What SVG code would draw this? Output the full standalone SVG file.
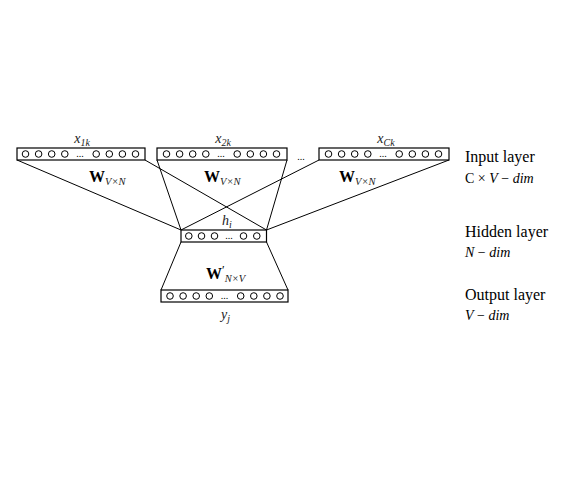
<svg xmlns="http://www.w3.org/2000/svg" width="580" height="478" viewBox="0 0 580 478">
<style>
.box{fill:#fff;stroke:#000;stroke-width:1.2}
.c{fill:#fff;stroke:#000;stroke-width:1}
.ln{stroke:#000;stroke-width:1;fill:none}
.t{font-family:"Liberation Serif",serif;fill:#000}
.it{font-style:italic}
.dots{font-family:"Liberation Serif",serif;font-size:10px;fill:#000}
.w{font-family:"Liberation Serif",serif;font-weight:bold;font-size:16px;fill:#000}
.sub{font-family:"Liberation Serif",serif;font-style:italic;font-weight:normal;font-size:10.5px;fill:#222}
.lbl{font-family:"Liberation Serif",serif;font-style:italic;font-size:14px;fill:#222}
.lbs{font-size:10px}
</style>
<defs>
<g id="row8">
<circle class="c" cx="8.5" cy="6" r="3.3"/>
<circle class="c" cx="21.6" cy="6" r="3.3"/>
<circle class="c" cx="34.7" cy="6" r="3.3"/>
<circle class="c" cx="47.8" cy="6" r="3.3"/>
<text class="dots" x="63" y="9" text-anchor="middle">...</text>
<circle class="c" cx="79.2" cy="6" r="3.3"/>
<circle class="c" cx="92.3" cy="6" r="3.3"/>
<circle class="c" cx="105.4" cy="6" r="3.3"/>
<circle class="c" cx="118.5" cy="6" r="3.3"/>
</g>
</defs>
<rect width="580" height="478" fill="#fff"/>
<g id="connectors">
<line class="ln" x1="17" y1="160" x2="181" y2="230"/>
<line class="ln" x1="145" y1="160" x2="266.5" y2="230"/>
<line class="ln" x1="157" y1="160" x2="181" y2="230"/>
<line class="ln" x1="287" y1="160" x2="266.5" y2="230"/>
<line class="ln" x1="319" y1="160" x2="181" y2="230"/>
<line class="ln" x1="449" y1="160" x2="266.5" y2="230"/>
<line class="ln" x1="181" y1="242" x2="161" y2="290"/>
<line class="ln" x1="266.5" y1="242" x2="288" y2="290"/>
</g>
<g id="input1">
<rect class="box" x="17" y="148" width="128" height="12"/>
<use href="#row8" x="17" y="148"/>
<text class="lbl" x="82" y="143" text-anchor="middle">x<tspan class="lbs" dy="2.5">1k</tspan></text>
<text class="w" x="89" y="182">W<tspan class="sub" dy="2.5">V×N</tspan></text>
</g>
<g id="input2">
<rect class="box" x="157" y="148" width="130" height="12"/>
<use href="#row8" x="158" y="148"/>
<text class="lbl" x="223" y="143" text-anchor="middle">x<tspan class="lbs" dy="2.5">2k</tspan></text>
<text class="w" x="204" y="182">W<tspan class="sub" dy="2.5">V×N</tspan></text>
</g>
<text class="t" x="301" y="160" font-size="10" text-anchor="middle">...</text>
<g id="input3">
<rect class="box" x="319" y="148" width="130" height="12"/>
<use href="#row8" x="320" y="148"/>
<text class="lbl" x="386" y="143" text-anchor="middle">x<tspan class="lbs" dy="2.5">Ck</tspan></text>
<text class="w" x="339" y="182">W<tspan class="sub" dy="2.5">V×N</tspan></text>
</g>
<g id="hidden">
<rect class="box" x="181" y="230" width="85.5" height="12"/>
<circle class="c" cx="188.8" cy="236" r="3.3"/>
<circle class="c" cx="201.5" cy="236" r="3.3"/>
<circle class="c" cx="214.5" cy="236" r="3.3"/>
<text class="dots" x="229" y="239" text-anchor="middle">...</text>
<circle class="c" cx="243.5" cy="236" r="3.3"/>
<circle class="c" cx="256.8" cy="236" r="3.3"/>
<text class="lbl" x="222" y="225">h<tspan class="lbs" dy="2.5">i</tspan></text>
</g>
<g id="output">
<rect class="box" x="161" y="290" width="127" height="12"/>
<use href="#row8" x="161.5" y="290"/>
<text class="w" x="206" y="279">W<tspan font-weight="normal" font-size="12" dy="-5">′</tspan><tspan class="sub" dy="7.5">N×V</tspan></text>
<text class="lbl" x="221" y="319">y<tspan class="lbs" dy="2.5">j</tspan></text>
</g>
<g id="layer-labels" class="t" font-size="16" fill="#222">
<text x="465" y="162">Input layer</text>
<text x="465" y="183" font-size="14"><tspan>C</tspan> × <tspan class="it">V</tspan> − <tspan class="it">dim</tspan></text>
<text x="465" y="237">Hidden layer</text>
<text x="465" y="257" font-size="14"><tspan class="it">N</tspan> − <tspan class="it">dim</tspan></text>
<text x="465" y="300">Output layer</text>
<text x="465" y="320" font-size="14"><tspan class="it">V</tspan> − <tspan class="it">dim</tspan></text>
</g>
</svg>
